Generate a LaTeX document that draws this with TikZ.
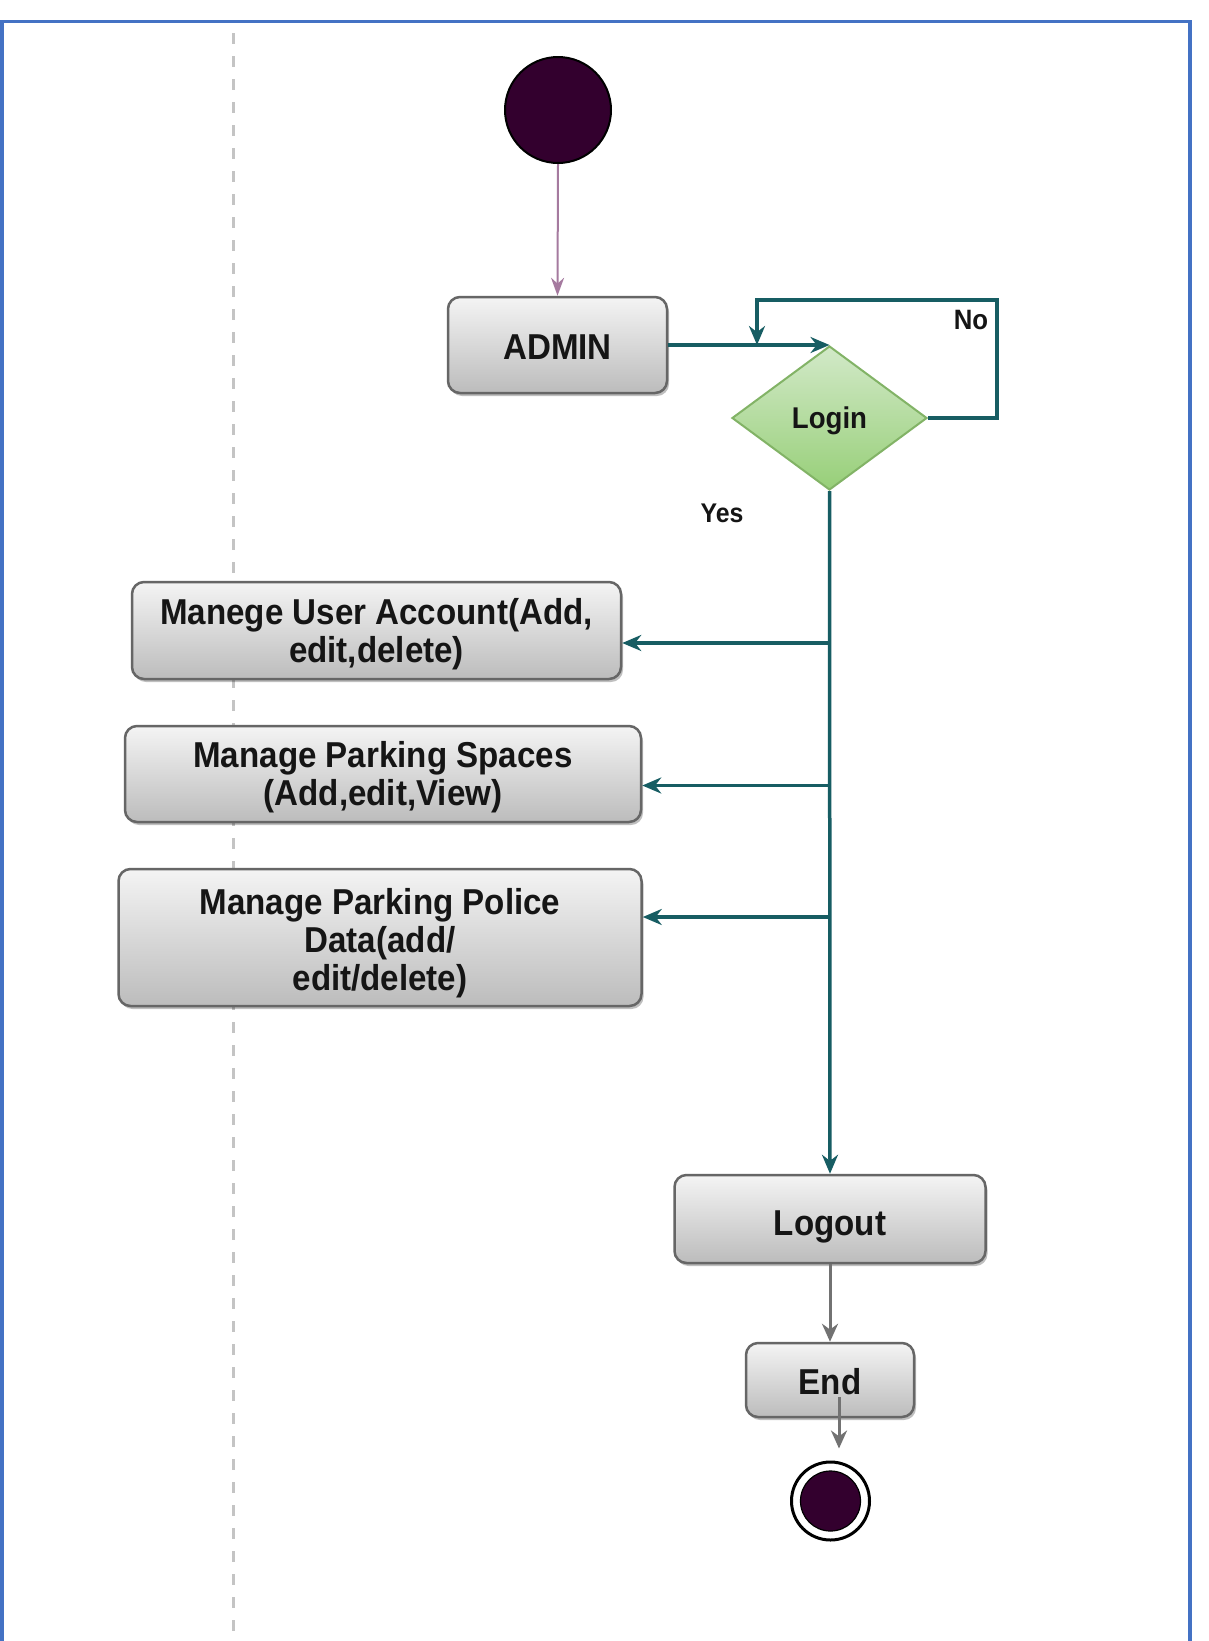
\documentclass[tikz,border=0pt]{standalone}
\usepackage{fontspec}
\setmainfont{Liberation Sans}[FakeStretch=0.92]
\usetikzlibrary{shapes.geometric,arrows.meta,shadows}
\definecolor{frameblue}{HTML}{4472C4}
\definecolor{flowteal}{HTML}{175D63}
\definecolor{startpink}{HTML}{A57A9F}
\definecolor{arrgray}{HTML}{727272}
\definecolor{actTop}{HTML}{F4F4F4}
\definecolor{actBot}{HTML}{BCBCBC}
\definecolor{actborder}{HTML}{666666}
\definecolor{dotfill}{HTML}{33002E}
\definecolor{dmTop}{HTML}{D2E9C8}
\definecolor{dmBot}{HTML}{97CF78}
\definecolor{dmborder}{HTML}{82B366}
\definecolor{txt}{HTML}{151515}
\definecolor{swim}{HTML}{C4C4C4}
% invisible strut on the first line: pushes the text block down inside its box
\newcommand{\topstrut}[1]{\rule{0pt}{#1}}
\begin{document}
\begin{tikzpicture}[x=1pt,y=-1pt,
  act/.style={draw=actborder, line width=2.5pt, rounded corners=12pt,
    top color=actTop, bottom color=actBot, text=txt, align=center,
    inner sep=0pt, font=\fontsize{36}{38}\selectfont\bfseries,
    drop shadow={shadow xshift=2pt, shadow yshift=-3pt, opacity=0.25, fill=black}},
  decision/.style={diamond, draw=dmborder, line width=2pt, top color=dmTop,
    bottom color=dmBot, inner sep=0pt, text=txt,
    font=\fontsize{30}{32}\selectfont\bfseries},
  lbl/.style={text=txt, inner sep=0pt, font=\fontsize{27}{29}\selectfont\bfseries},
  flow/.style={draw=flowteal, line width=3.5pt, -{Stealth[length=19pt,width=16pt]}},
  startflow/.style={draw=startpink, line width=2pt, -{Stealth[length=18pt,width=13pt]}},
  endflow/.style={draw=arrgray, line width=3pt, -{Stealth[length=18pt,width=16pt]}}
]
% canvas
\path[fill=white] (0,0) rectangle (1209,1641);
\useasboundingbox (0,0) rectangle (1209,1641);
% frame and swimlane separator
\draw[frameblue, line width=3.5pt] (2,1645) -- (2,21.5) -- (1190,21.5) -- (1190,1645);
\draw[swim, line width=3pt, dash pattern=on 11pt off 12pt] (233,33) -- (233,1641);

% nodes
\node[circle, draw=black, line width=2pt, fill=dotfill, minimum size=106pt, inner sep=0pt] (start) at (558,110) {};
\node[act, minimum width=219pt, minimum height=96pt] (admin) at (557.5,345) {\topstrut{28pt}ADMIN};
\node[decision, minimum width=195pt, minimum height=144pt] (login) at (829.5,418) {\topstrut{28pt}Login};
\node[lbl, font=\fontsize{28}{30}\selectfont\bfseries] (no) at (971,320) {No};
\node[lbl] (yes) at (722,513) {Yes};
\node[act, minimum width=489pt, minimum height=97pt] (m1) at (376.5,630.5) {\topstrut{34pt}Manege User Account(Add,\\edit,delete)};
\node[act, minimum width=516pt, minimum height=96pt] (m2) at (383,774) {\topstrut{32pt}Manage Parking Spaces\\(Add,edit,View)};
\node[act, minimum width=523pt, minimum height=137pt] (m3) at (380,937.5) {\topstrut{37pt}Manage Parking Police\\Data(add/\\edit/delete)};
\node[act, minimum width=311pt, minimum height=88pt] (logout) at (830,1219) {\topstrut{40pt}Logout};
\node[act, minimum width=168pt, minimum height=74pt] (end) at (830,1380) {\topstrut{30pt}End};
\node[circle, draw=black, line width=3pt, fill=white, minimum size=78pt, inner sep=0pt] (fin) at (830.5,1501) {};
\node[circle, draw=black, line width=1.2pt, fill=dotfill, minimum size=60pt, inner sep=0pt] (fincore) at (fin.center) {};

% junction points
\coordinate (loopc) at (997,300);
\coordinate (lp) at (757,345);
\coordinate (j1) at (830,643);
\coordinate (j2) at (830,785.5);
\coordinate (j3) at (830,917);

% connectors
\draw[startflow] (start.south) -- (admin.north);
\draw[flow] (admin.east) -- (admin.east -| login.north);
\draw[flow] (login.east) -| (loopc) -| (lp);
\draw[flow] (login.south) -- (logout.north);
\draw[flow] (j1) -- (j1 -| m1.east);
\draw[flow] (j2) -- (j2 -| m2.east);
\draw[flow] (j3) -- (j3 -| m3.east);
\draw[endflow] (logout.south) -- (end.north);
\draw[endflow] ([shift={(9,17)}]end.center) -- ([shift={(8.5,-12)}]fin.north);
\end{tikzpicture}
\end{document}
